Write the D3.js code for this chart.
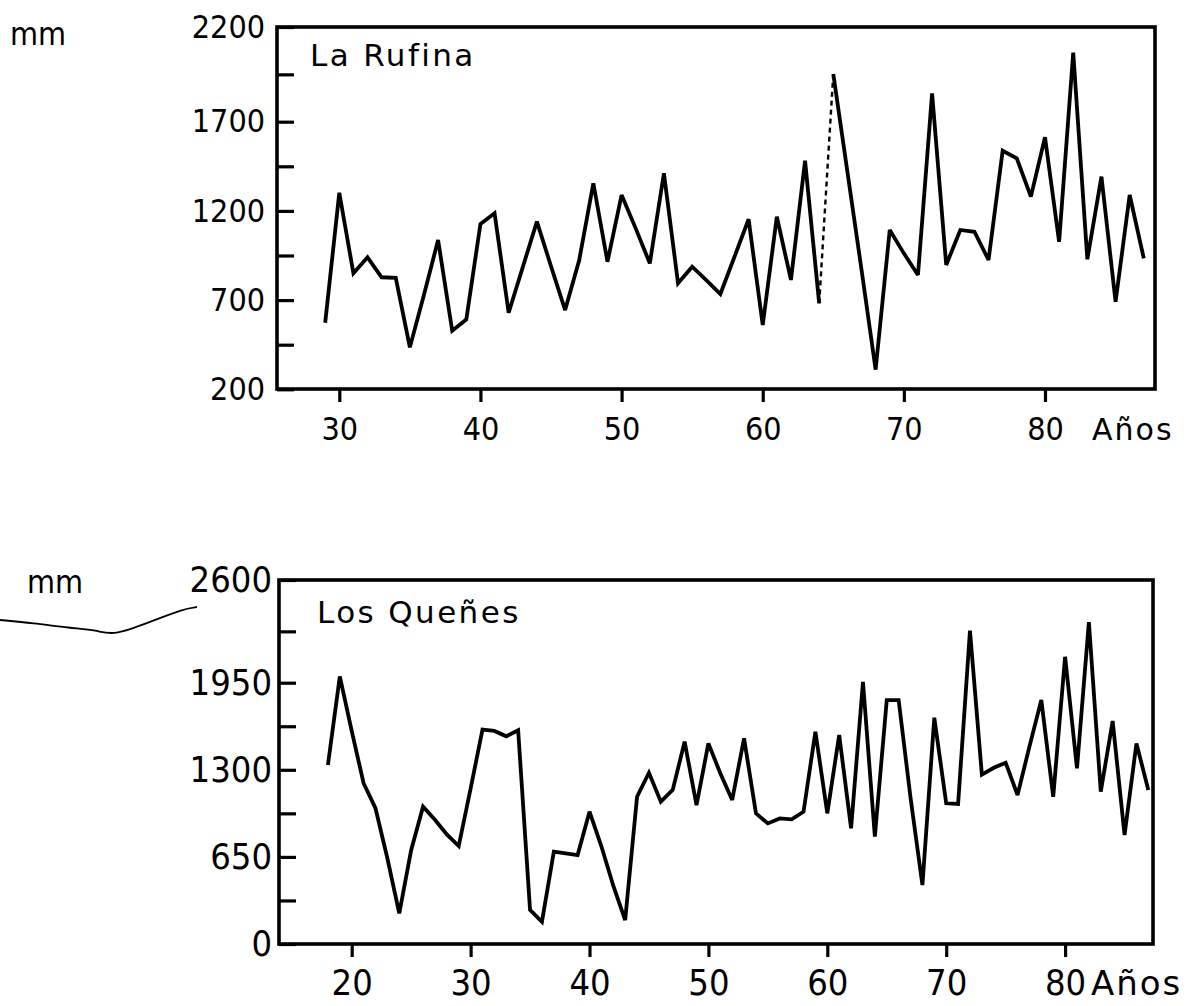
<!DOCTYPE html>
<html>
<head>
<meta charset="utf-8">
<script src="https://cdn.jsdelivr.net/npm/d3@7"></script>
<style>
  body { margin: 0; background: #fff; }
  svg { display: block; }
  .num { font-family: 'DejaVu Sans Condensed', 'DejaVu Sans', sans-serif; fill: #000; }
  .word { font-family: 'DejaVu Sans', sans-serif; fill: #000; }
</style>
</head>
<body>
<svg id="chart" width="1190" height="1006"></svg>
<script>
// La Rufina, annual rainfall (mm), 1929-1987
const rufinaYears = [29, 30, 31, 32, 33, 34, 35, 36, 37, 38, 39, 40, 41, 42, 43, 44, 45, 46, 47, 48,
  49, 50, 51, 52, 53, 54, 55, 56, 57, 58, 59, 60, 61, 62, 63, 64, 65, 66, 67, 68,
  69, 70, 71, 72, 73, 74, 75, 76, 77, 78, 79, 80, 81, 82, 83, 84, 85, 86, 87];
const rufinaMm = [573, 1302, 850, 940, 828, 825, 435, 730, 1037, 528, 592, 1127, 1187, 629, 885, 1140, 890, 644, 925, 1355,
  915, 1289, 1102, 906, 1411, 794, 887, 812, 734, 943, 1153, 560, 1167, 813, 1481, 682, 1952, 1420, 870, 310,
  1093, 962, 841, 1850, 897, 1093, 1083, 925, 1537, 1495, 1280, 1613, 1027, 2065, 929, 1392, 691, 1289, 934];
const rufinaYTicks = [200, 450, 700, 950, 1200, 1450, 1700, 1950, 2200];
const rufinaYLabels = [200, 700, 1200, 1700, 2200];
const rufinaXTicks = [30, 40, 50, 60, 70, 80];

// Los Queñes, annual rainfall (mm), 1918-1987
const quenesYears = [18, 19, 20, 21, 22, 23, 24, 25, 26, 27, 28, 29, 30, 31, 32, 33, 34, 35, 36, 37,
  38, 39, 40, 41, 42, 43, 44, 45, 46, 47, 48, 49, 50, 51, 52, 53, 54, 55, 56, 57,
  58, 59, 60, 61, 62, 63, 64, 65, 66, 67, 68, 69, 70, 71, 72, 73, 74, 75, 76, 77,
  78, 79, 80, 81, 82, 83, 84, 85, 86, 87];
const quenesMm = [1336, 1990, 1590, 1200, 1013, 640, 229, 700, 1025, 927, 818, 731, 1160, 1600, 1590, 1550, 1595, 254, 166, 689,
  677, 664, 987, 729, 435, 179, 1099, 1278, 1062, 1150, 1510, 1037, 1497, 1274, 1075, 1535, 975, 900, 937, 930,
  987, 1584, 975, 1560, 863, 1955, 801, 1820, 1820, 1092, 440, 1689, 1050, 1045, 2279, 1264, 1315, 1353, 1112, 1473,
  1821, 1099, 2114, 1311, 2333, 1137, 1664, 813, 1497, 1149];
const quenesYTicks = [0, 325, 650, 975, 1300, 1625, 1950, 2275, 2600];
const quenesYLabels = [0, 650, 1300, 1950, 2600];
const quenesXTicks = [20, 30, 40, 50, 60, 70, 80];

const svg = d3.select('#chart');

/**
 * One framed panel: box, inner y ticks, labels, rainfall line
 */
function drawPanel(cfg) {
  const { box, x, y } = cfg;
  const g = svg.append('g');
  const rows = cfg.years.map((yr, i) => ({ yr, mm: cfg.mm[i] }));

  // inner y ticks
  g.append('g')
    .attr('transform', `translate(${box.left},0)`)
    .call(d3.axisRight(y).tickValues(cfg.yTicks).tickSize(17).tickFormat(''))
    .call((a) => a.select('.domain').remove())
    .selectAll('line')
      .attr('stroke', '#000')
      .attr('stroke-width', 3.2);

  // y labels
  g.append('g')
    .attr('transform', `translate(${box.left},0)`)
    .call(d3.axisLeft(y).tickValues(cfg.yLabels).tickSize(0).tickPadding(cfg.yPad)
      .tickFormat(d3.format('d')))
    .call((a) => a.select('.domain').remove())
    .selectAll('text')
      .attr('class', 'num')
      .style('font-size', `${cfg.fontSize}px`);

  // x ticks and labels
  g.append('g')
    .attr('transform', `translate(0,${box.bottom})`)
    .call(d3.axisBottom(x).tickValues(cfg.xTicks).tickSize(13).tickPadding(cfg.xPad)
      .tickFormat(d3.format('d')))
    .call((a) => a.select('.domain').remove())
    .call((a) => a.selectAll('line').attr('stroke', '#000').attr('stroke-width', 3.2))
    .selectAll('text')
      .attr('class', 'num')
      .style('font-size', `${cfg.fontSize}px`);

  g.append('text')
    .attr('class', 'word')
    .attr('x', box.aniosX)
    .attr('y', box.aniosY)
    .style('font-size', `${cfg.fontSize - 2}px`)
    .style('letter-spacing', '2px')
    .text('Años');

  // frame
  g.append('rect')
    .attr('x', box.left)
    .attr('y', box.top)
    .attr('width', box.right - box.left)
    .attr('height', box.bottom - box.top)
    .attr('fill', 'none')
    .attr('stroke', '#000')
    .attr('stroke-width', 3.6);

  g.append('text')
    .attr('class', 'word')
    .attr('x', cfg.titleX)
    .attr('y', cfg.titleY)
    .style('font-size', '31px')
    .style('letter-spacing', '2.4px')
    .text(cfg.title);

  g.append('text')
    .attr('class', 'num')
    .attr('x', cfg.unitX)
    .attr('y', cfg.unitY)
    .style('font-size', '32px')
    .text('mm');

  const line = d3.line()
    .x((d) => x(d.yr))
    .y((d) => y(d.mm));

  // segments drawn dashed (faint in the original print)
  const dashed = cfg.dashed || [];
  const pieces = [];
  let start = 0;
  dashed.forEach(([a]) => {
    const i = rows.findIndex((r) => r.yr === a);
    pieces.push({ rows: rows.slice(start, i + 1), dash: false });
    pieces.push({ rows: rows.slice(i, i + 2), dash: true });
    start = i + 1;
  });
  pieces.push({ rows: rows.slice(start), dash: false });

  g.selectAll('path.series')
    .data(pieces)
    .join('path')
      .attr('class', 'series')
      .attr('d', (p) => line(p.rows))
      .attr('fill', 'none')
      .attr('stroke', '#000')
      .attr('stroke-width', (p) => (p.dash ? 2.4 : 3.8))
      .attr('stroke-dasharray', (p) => (p.dash ? '5 4' : null))
      .attr('stroke-linejoin', 'miter')
      .attr('stroke-miterlimit', 3);
}

drawPanel({
  years: rufinaYears,
  mm: rufinaMm,
  yTicks: rufinaYTicks,
  yLabels: rufinaYLabels,
  xTicks: rufinaXTicks,
  box: { left: 277, right: 1155, top: 27, bottom: 389, aniosX: 1092, aniosY: 440 },
  x: d3.scaleLinear().domain([30, 80]).range([339.3, 1045]),
  y: d3.scaleLinear().domain([200, 1700, 2200]).range([389.3, 121.7, 27]),
  fontSize: 32,
  yPad: 12,
  xPad: 15,
  title: 'La Rufina',
  titleX: 310,
  titleY: 66,
  unitX: 10,
  unitY: 45,
  dashed: [[64, 65]],
});

drawPanel({
  years: quenesYears,
  mm: quenesMm,
  yTicks: quenesYTicks,
  yLabels: quenesYLabels,
  xTicks: quenesXTicks,
  box: { left: 279, right: 1153, top: 580, bottom: 944, aniosX: 1091, aniosY: 995 },
  x: d3.scaleLinear().domain([20, 80]).range([351.7, 1065.1]),
  y: d3.scaleLinear().domain([0, 1950, 2600]).range([944, 682.7, 580]),
  fontSize: 36,
  yPad: 7,
  xPad: 12,
  title: 'Los Queñes',
  titleX: 317,
  titleY: 623,
  unitX: 27,
  unitY: 593,
});

// stray pen stroke under the lower "mm"
const scribble = [[0, 620], [33, 623], [70, 628], [97, 630], [113, 636], [150, 622], [183, 609], [197, 607]];
svg.append('path')
  .attr('d', d3.line().curve(d3.curveBasis)(scribble))
  .attr('fill', 'none')
  .attr('stroke', '#000')
  .attr('stroke-width', 1.8);
</script>
</body>
</html>
